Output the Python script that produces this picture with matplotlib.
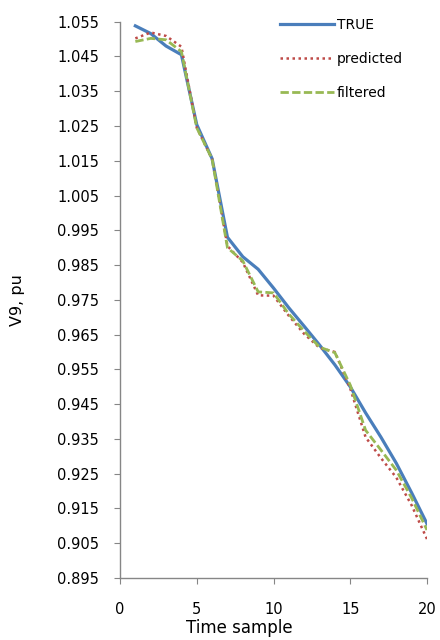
import numpy as np
import matplotlib.pyplot as plt

# time samples and the three voltage series
samples = list(range(1, 21))
v_true = [1.0538, 1.0516, 1.0480, 1.0455, 1.0254, 1.0156, 0.9930, 0.9874, 0.9838, 0.9784,
          0.9727, 0.9674, 0.9620, 0.9563, 0.9500, 0.9425, 0.9355, 0.9280, 0.9195, 0.9106]
v_predicted = [1.0502, 1.0519, 1.0509, 1.0478, 1.0245, 1.0155, 0.9905, 0.9858, 0.9763, 0.9762,
               0.9704, 0.9652, 0.9612, 0.9600, 0.9495, 0.9355, 0.9295, 0.9239, 0.9159, 0.9062]
v_filtered = [1.0493, 1.0502, 1.0498, 1.0464, 1.0245, 1.0155, 0.9900, 0.9862, 0.9773, 0.9770,
              0.9709, 0.9660, 0.9614, 0.9598, 0.9505, 0.9375, 0.9318, 0.9260, 0.9180, 0.9088]

y_ticks = np.round(np.arange(0.895, 1.0551, 0.01), 3)
x_ticks = [0, 5, 10, 15, 20]

plt.rcParams['font.family'] = ['DejaVu Sans']

fig = plt.figure(figsize=(4.4, 6.4), dpi=100)
ax = fig.add_axes([120 / 440, 1 - 578 / 640, 307 / 440, (578 - 21.7) / 640])

ax.plot(samples, v_true, color='#4A7EBB', lw=2.3, label='TRUE')
ax.plot(samples, v_predicted, color='#BE4B48', lw=1.8, ls=(0, (1, 1.4)), label='predicted')
ax.plot(samples, v_filtered, color='#98B954', lw=2.0, ls=(0, (3.0, 1.2)), label='filtered')

ax.set_xlim(0, 20)
ax.set_ylim(0.895, 1.055)
ax.set_xticks(x_ticks)
ax.set_yticks(y_ticks)
ax.set_yticklabels([f'{v:.3f}' for v in y_ticks])

for side in ['top', 'right']:
    ax.spines[side].set_visible(False)
for side in ['left', 'bottom']:
    ax.spines[side].set_color('#868686')
    ax.spines[side].set_linewidth(1.0)

ax.tick_params(axis='y', direction='out', length=4, color='#868686', labelsize=10.5, pad=11)
ax.tick_params(axis='x', direction='out', length=4, color='#868686', labelsize=10.5, pad=13)

ax.set_xlabel('Time sample', fontsize=12)
ax.xaxis.set_label_coords(0.388, -0.0745)
ax.set_ylabel('V9, pu', fontsize=11.5)
ax.yaxis.set_label_coords(-0.31, 0.5)

ax.legend(loc='upper left', bbox_to_anchor=(280 / 440, 1 - 18 / 640), bbox_transform=fig.transFigure,
          frameon=False, fontsize=10, handlelength=3.9, handletextpad=0.2,
          labelspacing=1.45, borderpad=0, borderaxespad=0)

fig.savefig('out.png', dpi=100)
